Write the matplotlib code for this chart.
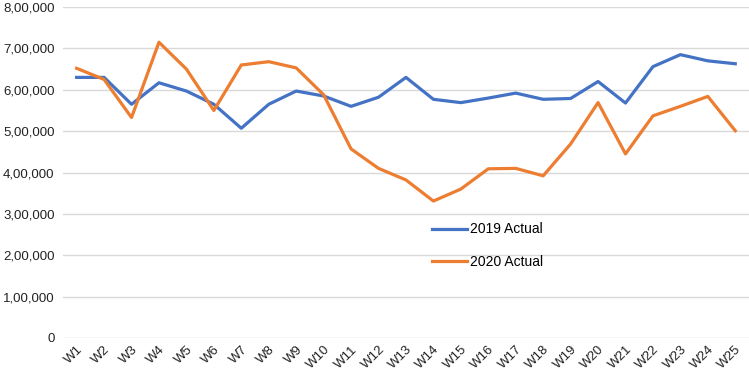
import matplotlib.pyplot as plt
from matplotlib.ticker import FuncFormatter

weeks = [f"W{i}" for i in range(1, 26)]
actual_2019 = [630000, 630000, 565000, 617000, 597000, 565000, 507000, 565000, 597000, 585000,
               560000, 582000, 630000, 577000, 569000, 580000, 592000, 577000, 579000, 620000,
               568000, 656000, 685000, 670000, 663000]
actual_2020 = [652000, 625000, 533000, 715000, 650000, 550000, 660000, 668000, 653000, 588000,
               457000, 410000, 382000, 331000, 360000, 409000, 410000, 392000, 469000, 569000,
               445000, 537000, 560000, 584000, 501000]


def indian_format(v, pos):
    v = int(round(v))
    if v == 0:
        return "0"
    s = str(v)
    last3 = s[-3:]
    rest = s[:-3]
    parts = []
    while len(rest) > 2:
        parts.insert(0, rest[-2:])
        rest = rest[:-2]
    if rest:
        parts.insert(0, rest)
    return ",".join(parts + [last3])


plt.rcParams['font.family'] = ['Liberation Sans', 'DejaVu Sans']

fig = plt.figure(figsize=(7.49, 3.73), dpi=100)
ax = fig.add_axes([0.084, 0.094, 0.916, 0.887])

x = range(len(weeks))
ax.plot(x, actual_2019, color='#4472C4', lw=2.3, label='2019 Actual', solid_joinstyle='round')
ax.plot(x, actual_2020, color='#ED7D31', lw=2.3, label='2020 Actual', solid_joinstyle='round')

ax.set_xlim(-0.5, 24.5)
ax.set_ylim(0, 800000)
ax.set_yticks(range(0, 800001, 100000))
ax.yaxis.set_major_formatter(FuncFormatter(indian_format))
ax.set_xticks(list(x))
ax.set_xticklabels(weeks, rotation=45, ha='right', rotation_mode='anchor')

ax.grid(axis='y', color='#d9d9d9', lw=1)
ax.set_axisbelow(True)
for s in ax.spines.values():
    s.set_visible(False)
ax.tick_params(axis='both', length=0, labelsize=9.5, colors='#222222')
ax.tick_params(axis='y', pad=6)
ax.tick_params(axis='x', pad=4)

ax.legend(loc='upper left', bbox_to_anchor=(0.528, 0.37), frameon=False, fontsize=10,
          handlelength=2.5, handletextpad=0.2, labelspacing=1.35, borderpad=0)

fig.savefig('out.png', dpi=100)
